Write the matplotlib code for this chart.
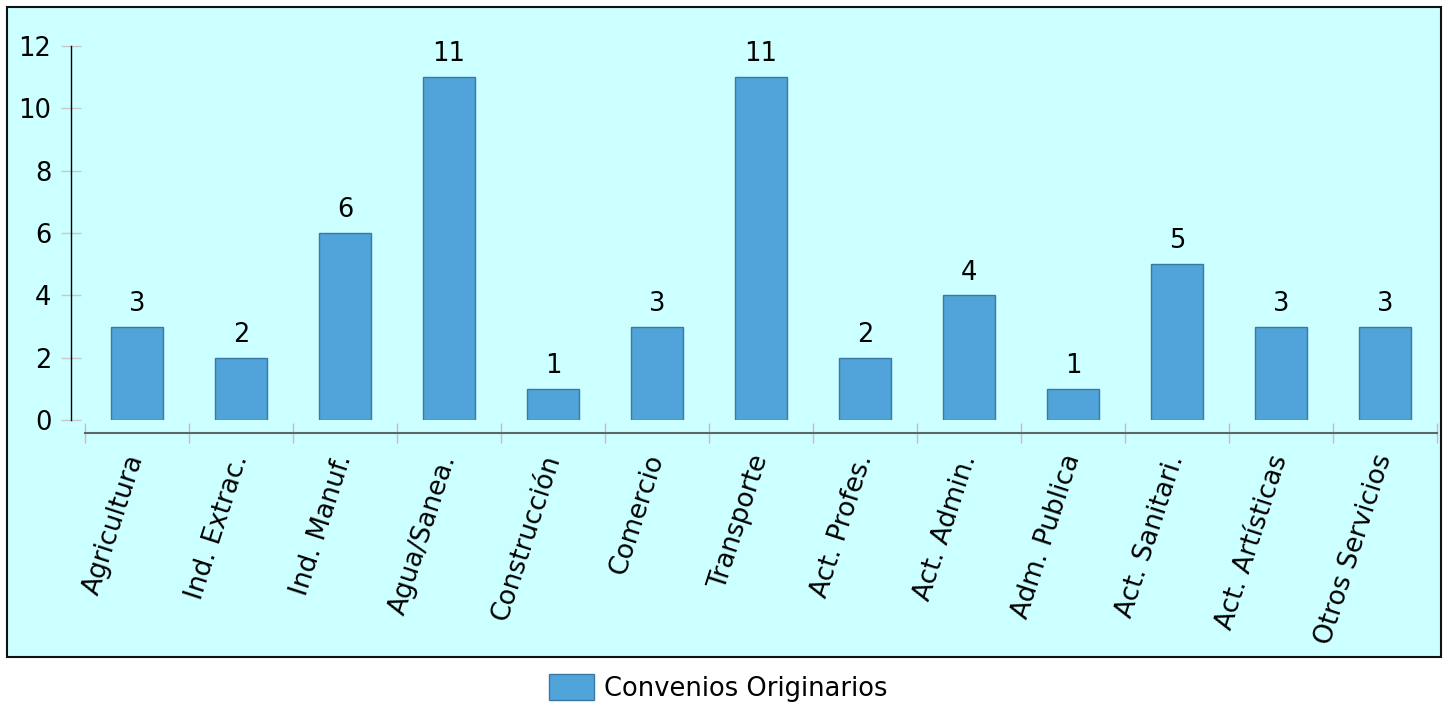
import matplotlib
matplotlib.use('Agg')
import matplotlib.pyplot as plt
from matplotlib.patches import Rectangle

categories = ['Agricultura', 'Ind. Extrac.', 'Ind. Manuf.', 'Agua/Sanea.', 'Construcción',
              'Comercio', 'Transporte', 'Act. Profes.', 'Act. Admin.', 'Adm. Publica',
              'Act. Sanitari.', 'Act. Artísticas', 'Otros Servicios']
convenios = [3, 2, 6, 11, 1, 3, 11, 2, 4, 1, 5, 3, 3]
y_ticks = [0, 2, 4, 6, 8, 10, 12]

W, H = 1445, 704
fig = plt.figure(figsize=(W / 100, H / 100), dpi=100)
fig.patch.set_facecolor('white')

# cyan panel behind the plot
panel = Rectangle((7 / W, 1 - 657 / H), (1441 - 7) / W, (657 - 7) / H,
                  transform=fig.transFigure, facecolor='#ccffff',
                  edgecolor='#111111', linewidth=1.5, zorder=-5)
fig.patches.append(panel)

ax = fig.add_axes([85 / W, 1 - 420 / H, (1437 - 85) / W, (420 - 46) / H])
ax.patch.set_alpha(0)

# spines first: moving them resets the ticks
for s in ['top', 'right']:
    ax.spines[s].set_visible(False)
ax.spines['left'].set_position(('outward', 10))
ax.spines['left'].set_color('black')
ax.spines['left'].set_linewidth(1)
ax.spines['bottom'].set_position(('outward', 9.4))
ax.spines['bottom'].set_color('#5a6868')
ax.spines['bottom'].set_linewidth(1.5)

x = list(range(len(categories)))
bars = ax.bar(x, convenios, width=0.5, color='#51a4da', edgecolor='#3a78a4',
              linewidth=1, label='Convenios Originarios', zorder=3)
ax.bar_label(bars, labels=[str(v) for v in convenios], padding=7, fontsize=18.5)

ax.set_xlim(-0.5, len(categories) - 0.5)
ax.set_ylim(0, 12)
ax.spines['left'].set_bounds(0, 12)
ax.set_yticks(y_ticks)
ax.tick_params(axis='y', direction='inout', length=14.4, width=1, color='#c8c8c8',
               labelsize=18.5, pad=7)

ax.set_xticks(x)
ax.set_xticks([i - 0.5 for i in range(len(categories) + 1)], minor=True)
ax.tick_params(axis='x', which='major', length=0, pad=16)
ax.tick_params(axis='x', which='minor', direction='inout', length=15, width=1,
               color='#d4b8b8')
ax.set_xticklabels(categories, rotation=72, ha='right', va='center',
                   rotation_mode='anchor', fontsize=19)

fig.legend(handles=[bars], labels=['Convenios Originarios'], loc='center',
           bbox_to_anchor=(718 / W, 1 - 688 / H), frameon=False, fontsize=18.5,
           handlelength=1.75, handleheight=1.2, handletextpad=0.4, borderpad=0)

fig.savefig('out.png', dpi=100)
